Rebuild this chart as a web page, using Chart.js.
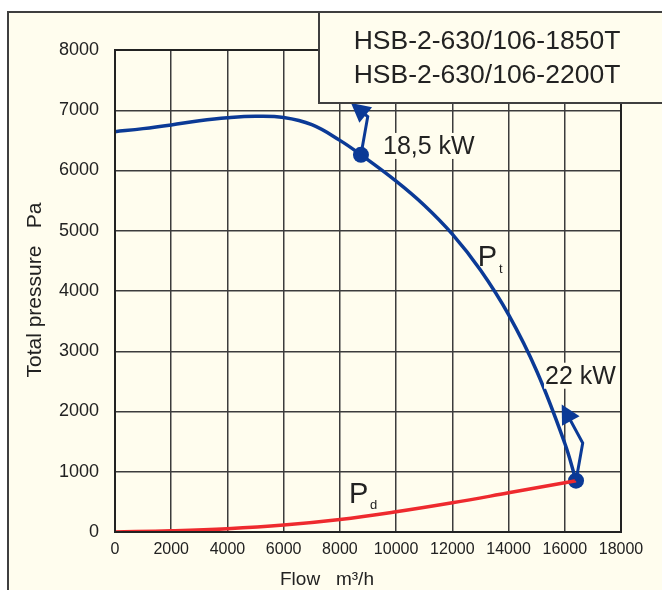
<!DOCTYPE html>
<html>
<head>
<meta charset="utf-8">
<script src="https://cdn.jsdelivr.net/npm/chart.js@4/dist/chart.umd.min.js"></script>
<style>
  html, body { margin: 0; padding: 0; background: #ffffff; }
  #c { display: block; }
</style>
</head>
<body>
<canvas id="c" width="662" height="590"></canvas>
<script>
// ---- data ----
const flowTicks = [0, 2000, 4000, 6000, 8000, 10000, 12000, 14000, 16000, 18000];
const pressureTicks = [0, 1000, 2000, 3000, 4000, 5000, 6000, 7000, 8000];

const ptFlow = [0, 1000, 2000, 3000, 4000, 5000, 6000, 7000, 8000, 8750, 10000, 11000, 12000, 13000, 14000, 15000, 16000, 16400];
const ptPressure = [6645, 6695, 6756, 6825, 6875, 6900, 6880, 6760, 6500, 6260, 5823, 5423, 4943, 4348, 3608, 2673, 1473, 852];

const pdFlow = [0, 2000, 4000, 6000, 8000, 10000, 12000, 14000, 16400];
const pdPressure = [0, 20, 55, 115, 207, 335, 484, 650, 852];

const opFlow = [8750, 16400];
const opPressure = [6260, 852];
const opLabels = ["18,5 kW", "22 kW"];
const opLabelFlow = [9534, 15297];
const opLabelPressure = [6275, 2461];

// arrows: dot -> bend -> tip (data coordinates)
const arrowFlow = [[8750, 8990, 8396], [16400, 16638, 15891]];
const arrowPressure = [[6260, 6894, 7121], [852, 1478, 2118]];

const modelNames = ["HSB-2-630/106-1850T", "HSB-2-630/106-2200T"];
const xTitle = "Flow   m³/h";
const yTitle = "Total pressure   Pa";

// ---- styles ----
const BG = '#fffdee';
const BLUE = '#0b3a96';
const RED = '#ee2a2e';
const GRID = '#3c3c3c';
const FRAME = '#3f3f3f';
const TXT = '#222222';
const FONT = "'Liberation Sans', Arial, sans-serif";
const NARROW = "'Liberation Sans Narrow', 'Liberation Sans', Arial, sans-serif";

const toXY = (xs, ys) => xs.map((x, i) => ({ x: x, y: ys[i] }));

const decor = {
  id: 'decor',
  beforeDraw(chart) {
    const ctx = chart.ctx;
    ctx.save();
    ctx.fillStyle = '#ffffff';
    ctx.fillRect(0, 0, chart.width, chart.height);
    ctx.fillStyle = BG;
    ctx.fillRect(8, 12, chart.width, chart.height);
    ctx.strokeStyle = FRAME;
    ctx.lineWidth = 2;
    ctx.beginPath();
    ctx.moveTo(8, chart.height + 2);
    ctx.lineTo(8, 12);
    ctx.lineTo(chart.width + 2, 12);
    ctx.stroke();
    ctx.restore();
  },
  afterDatasetsDraw(chart) {
    const ctx = chart.ctx;
    const xs = chart.scales.x, ys = chart.scales.y;
    const a = chart.chartArea;
    ctx.save();
    // plot border
    ctx.strokeStyle = '#222';
    ctx.lineWidth = 2;
    ctx.strokeRect(a.left, a.top, a.right - a.left, a.bottom - a.top);

    // arrows
    ctx.strokeStyle = BLUE;
    ctx.fillStyle = BLUE;
    ctx.lineWidth = 3;
    ctx.lineJoin = 'miter';
    arrowFlow.forEach((fl, k) => {
      const pts = fl.map((f, i) => [xs.getPixelForValue(f), ys.getPixelForValue(arrowPressure[k][i])]);
      const tip = pts[2], bend = pts[1];
      const dx = tip[0] - bend[0], dy = tip[1] - bend[1];
      const len = Math.hypot(dx, dy);
      const ux = dx / len, uy = dy / len;
      const headL = 19, headW = 10;
      const bx = tip[0] - ux * headL, by = tip[1] - uy * headL;
      ctx.beginPath();
      ctx.moveTo(pts[0][0], pts[0][1]);
      ctx.lineTo(bend[0], bend[1]);
      ctx.lineTo(bx + ux * 2, by + uy * 2);
      ctx.stroke();
      ctx.beginPath();
      ctx.moveTo(tip[0], tip[1]);
      ctx.lineTo(bx - uy * headW, by + ux * headW);
      ctx.lineTo(bx + uy * headW, by - ux * headW);
      ctx.closePath();
      ctx.fill();
    });

    // operating point labels
    ctx.font = '25px ' + FONT;
    ctx.textBaseline = 'alphabetic';
    ctx.textAlign = 'left';
    opLabels.forEach((t, i) => {
      const px = xs.getPixelForValue(opLabelFlow[i]);
      const py = ys.getPixelForValue(opLabelPressure[i]);
      const w = ctx.measureText(t).width;
      ctx.fillStyle = BG;
      ctx.fillRect(px - 1, py - 21, w + 2, 26);
      ctx.fillStyle = TXT;
      ctx.fillText(t, px, py);
    });

    // curve labels P_t and P_d
    const curveLabels = [
      { f: 12900, p: 4418, sf: 13660, sp: 4307, sub: 't' },
      { f: 8324, p: 484, sf: 9071, sp: 390, sub: 'd' }
    ];
    curveLabels.forEach(l => {
      ctx.fillStyle = TXT;
      ctx.font = '29px ' + FONT;
      ctx.fillText('P', xs.getPixelForValue(l.f), ys.getPixelForValue(l.p));
      ctx.font = '13px ' + FONT;
      ctx.fillText(l.sub, xs.getPixelForValue(l.sf), ys.getPixelForValue(l.sp));
    });

    // axis titles
    ctx.fillStyle = TXT;
    ctx.font = '19px ' + FONT;
    ctx.textAlign = 'left';
    ctx.textBaseline = 'alphabetic';
    ctx.fillText(xTitle, 280, 585);
    ctx.save();
    ctx.translate(41, 290);
    ctx.rotate(-Math.PI / 2);
    ctx.textAlign = 'center';
    ctx.font = '21px ' + FONT;
    ctx.fillText(yTitle, 0, 0);
    ctx.restore();

    // model box
    ctx.fillStyle = BG;
    ctx.fillRect(319, 12, chart.width, 91);
    ctx.strokeStyle = FRAME;
    ctx.lineWidth = 2;
    ctx.strokeRect(319, 12, chart.width, 91);
    ctx.fillStyle = TXT;
    ctx.font = '26.5px ' + FONT;
    ctx.textAlign = 'center';
    ctx.fillText(modelNames[0], 487, 49);
    ctx.fillText(modelNames[1], 487, 83);
    ctx.restore();
  }
};

new Chart(document.getElementById('c'), {
  type: 'scatter',
  data: {
    datasets: [
      {
        label: 'Pd',
        data: toXY(pdFlow, pdPressure),
        showLine: true,
        borderColor: RED,
        borderWidth: 3.5,
        pointRadius: 0,
        tension: 0.4,
        fill: false
      },
      {
        label: 'Pt',
        data: toXY(ptFlow, ptPressure),
        showLine: true,
        borderColor: BLUE,
        borderWidth: 3.5,
        pointRadius: 0,
        tension: 0.4,
        fill: false
      },
      {
        label: 'points',
        data: toXY(opFlow, opPressure),
        showLine: false,
        pointRadius: 8,
        pointBackgroundColor: BLUE,
        pointBorderColor: BLUE,
        pointBorderWidth: 0
      }
    ]
  },
  options: {
    responsive: false,
    animation: false,
    devicePixelRatio: 1,
    layout: { padding: { top: 50, right: 41, left: 0, bottom: 0 } },
    plugins: { legend: { display: false }, tooltip: { enabled: false } },
    scales: {
      x: {
        type: 'linear',
        min: 0, max: 18000,
        afterFit(s) { s.height = 58; },
        afterBuildTicks(s) { s.ticks = flowTicks.map(v => ({ value: v })); },
        ticks: {
          font: { family: NARROW, size: 16 },
          color: TXT,
          padding: 8,
          maxRotation: 0,
          autoSkip: false,
          callback: v => String(v)
        },
        grid: { color: GRID, lineWidth: 1.5, drawTicks: false },
        border: { color: '#222', width: 2 }
      },
      y: {
        type: 'linear',
        min: 0, max: 8000,
        afterFit(s) { s.width = 115; },
        afterBuildTicks(s) { s.ticks = pressureTicks.map(v => ({ value: v })); },
        ticks: {
          font: { family: FONT, size: 18 },
          color: TXT,
          padding: 16,
          autoSkip: false,
          callback: v => String(v)
        },
        grid: { color: GRID, lineWidth: 1.5, drawTicks: false },
        border: { color: '#222', width: 2 }
      }
    }
  },
  plugins: [decor]
});
</script>
</body>
</html>
